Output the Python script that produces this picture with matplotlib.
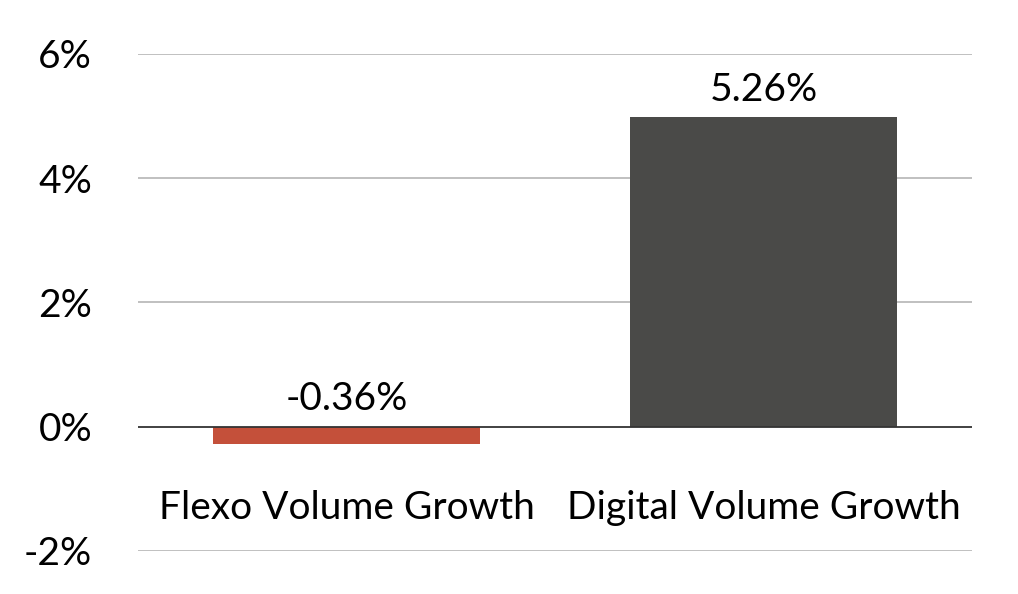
import matplotlib.pyplot as plt
from matplotlib.ticker import FuncFormatter

plt.rcParams['font.family'] = ['Lato', 'DejaVu Sans']

# Daten
categories = ['Flexo Volume Growth', 'Digital Volume Growth']
bar_heights = [-0.28, 4.98]          # as drawn in the picture
bar_labels = ['-0.36%', '5.26%']     # as printed on the picture
bar_colors = ['#C4503A', '#4A4A48']
y_ticks = [-2, 0, 2, 4, 6]

fig = plt.figure(figsize=(10.18, 5.94), dpi=100)
ax = fig.add_axes([0.1356, 0.0724, 0.8193, 0.8367])

x = list(range(len(categories)))
ax.bar(x, bar_heights, width=0.64, color=bar_colors, zorder=3)

ax.set_xlim(-0.5, 1.5)
ax.set_ylim(-2, 6)
ax.set_yticks(y_ticks)
ax.yaxis.set_major_formatter(FuncFormatter(lambda v, p: f'{v:.0f}%'))
ax.tick_params(axis='y', length=0, pad=33, labelsize=28)
ax.set_xticks([])

# Gitterlinien
for t in y_ticks:
    if t == 0:
        ax.axhline(t, color='#333333', lw=1.3, zorder=4)
    else:
        ax.axhline(t, color='#BBBBBB', lw=1.3, zorder=1)

for s in ax.spines.values():
    s.set_visible(False)

# Wertbeschriftungen
for xi, h, lab in zip(x, bar_heights, bar_labels):
    top = max(h, 0)
    ax.annotate(lab, (xi, top), xytext=(0, 7), textcoords='offset points',
                ha='center', va='bottom', fontsize=28)

# Kategorien unter der Nulllinie
for xi, cat in zip(x, categories):
    ax.text(xi, -1.3, cat, ha='center', va='center', fontsize=28)

fig.savefig('out.png', dpi=100)
